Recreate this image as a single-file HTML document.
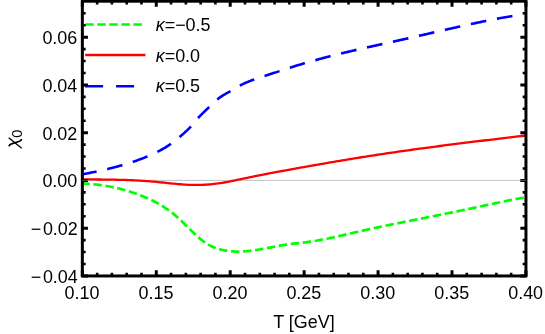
<!DOCTYPE html>
<html>
<head>
<meta charset="utf-8">
<title>plot</title>
<style>
html,body{margin:0;padding:0;background:#fff;}
body{width:545px;height:334px;overflow:hidden;}
svg{display:block;will-change:transform;}
text{font-family:"Liberation Sans",sans-serif;font-size:17.95px;fill:#000;filter:grayscale(1);}
.it{font-style:italic;}
</style>
</head>
<body>
<svg width="545" height="334" viewBox="0 0 545 334">
<rect x="0" y="0" width="545" height="334" fill="#fff"/>
<!-- zero grid line -->
<line x1="82.35" y1="180.4" x2="525.95" y2="180.4" stroke="#b4b4b4" stroke-width="0.8"/>
<!-- curves -->
<path d="M82.35,183.44 L83.85,183.52 L85.35,183.60 L86.85,183.70 L88.34,183.81 L89.84,183.92 L91.34,184.05 L92.84,184.19 L94.34,184.34 L95.84,184.50 L97.34,184.68 L98.84,184.86 L100.33,185.06 L101.83,185.27 L103.33,185.49 L104.83,185.73 L106.33,185.97 L107.83,186.23 L109.33,186.50 L110.82,186.79 L112.32,187.09 L113.82,187.40 L115.32,187.72 L116.82,188.06 L118.32,188.41 L119.82,188.78 L121.31,189.16 L122.81,189.56 L124.31,189.97 L125.81,190.39 L127.31,190.83 L128.81,191.29 L130.31,191.75 L131.81,192.24 L133.30,192.74 L134.80,193.26 L136.30,193.79 L137.80,194.34 L139.30,194.90 L140.80,195.48 L142.30,196.08 L143.79,196.69 L145.29,197.32 L146.79,197.97 L148.29,198.64 L149.79,199.32 L151.29,200.02 L152.79,200.75 L154.29,201.50 L155.78,202.27 L157.28,203.07 L158.78,203.90 L160.28,204.76 L161.78,205.65 L163.28,206.58 L164.78,207.53 L166.27,208.53 L167.77,209.56 L169.27,210.63 L170.77,211.75 L172.27,212.90 L173.77,214.11 L175.27,215.35 L176.76,216.65 L178.26,217.99 L179.76,219.37 L181.26,220.79 L182.76,222.24 L184.26,223.70 L185.76,225.19 L187.26,226.67 L188.75,228.16 L190.25,229.65 L191.75,231.12 L193.25,232.57 L194.75,234.00 L196.25,235.39 L197.75,236.74 L199.24,238.05 L200.74,239.30 L202.24,240.50 L203.74,241.63 L205.24,242.70 L206.74,243.68 L208.24,244.59 L209.74,245.41 L211.23,246.16 L212.73,246.84 L214.23,247.45 L215.73,248.00 L217.23,248.50 L218.73,248.96 L220.23,249.37 L221.72,249.74 L223.22,250.07 L224.72,250.36 L226.22,250.62 L227.72,250.85 L229.22,251.04 L230.72,251.20 L232.21,251.32 L233.71,251.42 L235.21,251.49 L236.71,251.53 L238.21,251.54 L239.71,251.53 L241.21,251.49 L242.71,251.43 L244.20,251.35 L245.70,251.24 L247.20,251.12 L248.70,250.97 L250.20,250.81 L251.70,250.63 L253.20,250.44 L254.69,250.23 L256.19,250.01 L257.69,249.77 L259.19,249.53 L260.69,249.27 L262.19,249.01 L263.69,248.74 L265.19,248.46 L266.68,248.18 L268.18,247.90 L269.68,247.61 L271.18,247.32 L272.68,247.03 L274.18,246.74 L275.68,246.46 L277.17,246.18 L278.67,245.90 L280.17,245.63 L281.67,245.36 L283.17,245.11 L284.67,244.86 L286.17,244.62 L287.66,244.40 L289.16,244.18 L290.66,243.98 L292.16,243.80 L293.66,243.62 L295.16,243.46 L296.66,243.30 L298.16,243.15 L299.65,242.99 L301.15,242.83 L302.65,242.66 L304.15,242.49 L305.65,242.30 L307.15,242.10 L308.65,241.90 L310.14,241.68 L311.64,241.45 L313.14,241.22 L314.64,240.97 L316.14,240.72 L317.64,240.46 L319.14,240.20 L320.64,239.92 L322.13,239.64 L323.63,239.35 L325.13,239.06 L326.63,238.76 L328.13,238.45 L329.63,238.14 L331.13,237.83 L332.62,237.51 L334.12,237.18 L335.62,236.85 L337.12,236.52 L338.62,236.19 L340.12,235.85 L341.62,235.51 L343.11,235.17 L344.61,234.82 L346.11,234.48 L347.61,234.13 L349.11,233.78 L350.61,233.44 L352.11,233.09 L353.61,232.74 L355.10,232.39 L356.60,232.05 L358.10,231.70 L359.60,231.36 L361.10,231.01 L362.60,230.67 L364.10,230.34 L365.59,230.00 L367.09,229.67 L368.59,229.34 L370.09,229.01 L371.59,228.68 L373.09,228.36 L374.59,228.04 L376.09,227.72 L377.58,227.40 L379.08,227.08 L380.58,226.76 L382.08,226.45 L383.58,226.14 L385.08,225.83 L386.58,225.52 L388.07,225.21 L389.57,224.90 L391.07,224.60 L392.57,224.29 L394.07,223.99 L395.57,223.69 L397.07,223.38 L398.56,223.08 L400.06,222.78 L401.56,222.48 L403.06,222.19 L404.56,221.89 L406.06,221.59 L407.56,221.29 L409.06,221.00 L410.55,220.70 L412.05,220.40 L413.55,220.11 L415.05,219.81 L416.55,219.52 L418.05,219.22 L419.55,218.92 L421.04,218.63 L422.54,218.33 L424.04,218.04 L425.54,217.74 L427.04,217.44 L428.54,217.15 L430.04,216.85 L431.54,216.55 L433.03,216.25 L434.53,215.95 L436.03,215.65 L437.53,215.35 L439.03,215.05 L440.53,214.75 L442.03,214.45 L443.52,214.15 L445.02,213.85 L446.52,213.55 L448.02,213.24 L449.52,212.94 L451.02,212.63 L452.52,212.32 L454.01,212.02 L455.51,211.71 L457.01,211.40 L458.51,211.09 L460.01,210.78 L461.51,210.46 L463.01,210.15 L464.51,209.84 L466.00,209.52 L467.50,209.20 L469.00,208.88 L470.50,208.57 L472.00,208.24 L473.50,207.92 L475.00,207.60 L476.49,207.28 L477.99,206.95 L479.49,206.63 L480.99,206.30 L482.49,205.98 L483.99,205.66 L485.49,205.33 L486.99,205.01 L488.48,204.69 L489.98,204.36 L491.48,204.04 L492.98,203.72 L494.48,203.40 L495.98,203.08 L497.48,202.77 L498.97,202.45 L500.47,202.14 L501.97,201.83 L503.47,201.52 L504.97,201.21 L506.47,200.91 L507.97,200.60 L509.46,200.30 L510.96,200.01 L512.46,199.71 L513.96,199.42 L515.46,199.13 L516.96,198.85 L518.46,198.57 L519.96,198.29 L521.45,198.01 L522.95,197.74 L524.45,197.48 L525.95,197.22" fill="none" stroke="#00ff00" stroke-width="2.7" stroke-dasharray="8.45 3.62" stroke-dashoffset="1.0"/>
<path d="M82.35,179.40 L84.35,179.41 L86.35,179.42 L88.34,179.43 L90.34,179.45 L92.34,179.46 L94.34,179.47 L96.34,179.48 L98.34,179.50 L100.33,179.52 L102.33,179.53 L104.33,179.55 L106.33,179.58 L108.33,179.60 L110.32,179.63 L112.32,179.67 L114.32,179.70 L116.32,179.74 L118.32,179.79 L120.32,179.84 L122.31,179.89 L124.31,179.96 L126.31,180.02 L128.31,180.09 L130.31,180.17 L132.30,180.26 L134.30,180.35 L136.30,180.45 L138.30,180.56 L140.30,180.67 L142.30,180.79 L144.29,180.93 L146.29,181.07 L148.29,181.22 L150.29,181.37 L152.29,181.54 L154.29,181.72 L156.28,181.90 L158.28,182.09 L160.28,182.29 L162.28,182.49 L164.28,182.69 L166.27,182.90 L168.27,183.11 L170.27,183.31 L172.27,183.52 L174.27,183.72 L176.27,183.91 L178.26,184.09 L180.26,184.27 L182.26,184.42 L184.26,184.56 L186.26,184.68 L188.25,184.78 L190.25,184.86 L192.25,184.92 L194.25,184.95 L196.25,184.96 L198.25,184.94 L200.24,184.90 L202.24,184.84 L204.24,184.76 L206.24,184.64 L208.24,184.51 L210.23,184.35 L212.23,184.16 L214.23,183.95 L216.23,183.71 L218.23,183.44 L220.23,183.15 L222.22,182.84 L224.22,182.50 L226.22,182.14 L228.22,181.77 L230.22,181.38 L232.21,180.98 L234.21,180.57 L236.21,180.15 L238.21,179.73 L240.21,179.30 L242.21,178.87 L244.20,178.44 L246.20,178.01 L248.20,177.59 L250.20,177.18 L252.20,176.77 L254.20,176.36 L256.19,175.96 L258.19,175.56 L260.19,175.16 L262.19,174.77 L264.19,174.38 L266.18,174.00 L268.18,173.61 L270.18,173.23 L272.18,172.86 L274.18,172.48 L276.18,172.11 L278.17,171.74 L280.17,171.37 L282.17,171.00 L284.17,170.63 L286.17,170.27 L288.16,169.91 L290.16,169.54 L292.16,169.18 L294.16,168.82 L296.16,168.46 L298.16,168.10 L300.15,167.74 L302.15,167.38 L304.15,167.03 L306.15,166.67 L308.15,166.32 L310.14,165.96 L312.14,165.61 L314.14,165.25 L316.14,164.90 L318.14,164.55 L320.14,164.20 L322.13,163.86 L324.13,163.51 L326.13,163.16 L328.13,162.82 L330.13,162.47 L332.12,162.13 L334.12,161.79 L336.12,161.45 L338.12,161.11 L340.12,160.78 L342.12,160.44 L344.11,160.11 L346.11,159.78 L348.11,159.44 L350.11,159.12 L352.11,158.79 L354.10,158.46 L356.10,158.14 L358.10,157.81 L360.10,157.49 L362.10,157.17 L364.10,156.86 L366.09,156.54 L368.09,156.23 L370.09,155.92 L372.09,155.61 L374.09,155.30 L376.09,154.99 L378.08,154.69 L380.08,154.38 L382.08,154.08 L384.08,153.78 L386.08,153.48 L388.07,153.19 L390.07,152.89 L392.07,152.60 L394.07,152.31 L396.07,152.02 L398.07,151.73 L400.06,151.44 L402.06,151.16 L404.06,150.88 L406.06,150.59 L408.06,150.31 L410.05,150.03 L412.05,149.76 L414.05,149.48 L416.05,149.20 L418.05,148.93 L420.05,148.66 L422.04,148.39 L424.04,148.12 L426.04,147.85 L428.04,147.58 L430.04,147.31 L432.03,147.05 L434.03,146.78 L436.03,146.52 L438.03,146.26 L440.03,146.00 L442.03,145.74 L444.02,145.48 L446.02,145.22 L448.02,144.97 L450.02,144.71 L452.02,144.46 L454.01,144.20 L456.01,143.95 L458.01,143.70 L460.01,143.45 L462.01,143.20 L464.01,142.95 L466.00,142.70 L468.00,142.45 L470.00,142.21 L472.00,141.96 L474.00,141.71 L476.00,141.47 L477.99,141.23 L479.99,140.98 L481.99,140.74 L483.99,140.50 L485.99,140.26 L487.98,140.02 L489.98,139.78 L491.98,139.54 L493.98,139.30 L495.98,139.06 L497.98,138.82 L499.97,138.58 L501.97,138.35 L503.97,138.11 L505.97,137.87 L507.97,137.64 L509.96,137.40 L511.96,137.16 L513.96,136.93 L515.96,136.69 L517.96,136.46 L519.96,136.23 L521.95,135.99 L523.95,135.76 L525.95,135.52" fill="none" stroke="#ff0000" stroke-width="2.3"/>
<path d="M82.35,174.35 L83.85,174.07 L85.35,173.78 L86.85,173.49 L88.35,173.19 L89.85,172.89 L91.35,172.59 L92.85,172.29 L94.35,171.98 L95.85,171.67 L97.35,171.35 L98.85,171.02 L100.35,170.70 L101.85,170.36 L103.35,170.02 L104.85,169.68 L106.35,169.33 L107.85,168.97 L109.35,168.61 L110.85,168.24 L112.35,167.86 L113.85,167.47 L115.35,167.08 L116.85,166.68 L118.35,166.27 L119.85,165.86 L121.35,165.43 L122.85,165.00 L124.35,164.55 L125.85,164.10 L127.34,163.64 L128.84,163.16 L130.34,162.68 L131.84,162.19 L133.34,161.69 L134.84,161.17 L136.34,160.65 L137.84,160.11 L139.34,159.56 L140.84,159.00 L142.34,158.43 L143.84,157.84 L145.34,157.25 L146.84,156.64 L148.34,156.01 L149.84,155.38 L151.34,154.72 L152.84,154.05 L154.34,153.36 L155.84,152.64 L157.34,151.90 L158.84,151.13 L160.34,150.34 L161.84,149.51 L163.34,148.65 L164.84,147.76 L166.34,146.83 L167.84,145.86 L169.34,144.86 L170.84,143.81 L172.34,142.71 L173.84,141.58 L175.34,140.41 L176.84,139.21 L178.34,137.98 L179.84,136.74 L181.34,135.48 L182.84,134.20 L184.34,132.88 L185.84,131.51 L187.34,130.09 L188.84,128.60 L190.34,127.03 L191.84,125.37 L193.34,123.63 L194.84,121.86 L196.34,120.08 L197.84,118.35 L199.34,116.70 L200.84,115.13 L202.34,113.62 L203.84,112.15 L205.34,110.72 L206.84,109.30 L208.34,107.88 L209.84,106.44 L211.34,104.98 L212.84,103.53 L214.34,102.11 L215.83,100.74 L217.33,99.46 L218.83,98.27 L220.33,97.18 L221.83,96.18 L223.33,95.23 L224.83,94.34 L226.33,93.48 L227.83,92.64 L229.33,91.80 L230.83,90.95 L232.33,90.08 L233.83,89.19 L235.33,88.30 L236.83,87.41 L238.33,86.54 L239.83,85.70 L241.33,84.90 L242.83,84.14 L244.33,83.42 L245.83,82.74 L247.33,82.09 L248.83,81.47 L250.33,80.88 L251.83,80.31 L253.33,79.76 L254.83,79.23 L256.33,78.72 L257.83,78.22 L259.33,77.73 L260.83,77.25 L262.33,76.77 L263.83,76.29 L265.33,75.81 L266.83,75.33 L268.33,74.84 L269.83,74.34 L271.33,73.85 L272.83,73.35 L274.33,72.86 L275.83,72.36 L277.33,71.86 L278.83,71.36 L280.33,70.86 L281.83,70.36 L283.33,69.86 L284.83,69.37 L286.33,68.88 L287.83,68.39 L289.33,67.90 L290.83,67.42 L292.33,66.94 L293.83,66.47 L295.33,66.01 L296.83,65.54 L298.33,65.08 L299.83,64.63 L301.33,64.18 L302.82,63.73 L304.32,63.29 L305.82,62.85 L307.32,62.42 L308.82,61.99 L310.32,61.56 L311.82,61.14 L313.32,60.72 L314.82,60.30 L316.32,59.89 L317.82,59.48 L319.32,59.07 L320.82,58.67 L322.32,58.27 L323.82,57.87 L325.32,57.48 L326.82,57.09 L328.32,56.70 L329.82,56.31 L331.32,55.93 L332.82,55.55 L334.32,55.17 L335.82,54.80 L337.32,54.43 L338.82,54.06 L340.32,53.69 L341.82,53.32 L343.32,52.96 L344.82,52.60 L346.32,52.24 L347.82,51.88 L349.32,51.52 L350.82,51.17 L352.32,50.82 L353.82,50.47 L355.32,50.12 L356.82,49.77 L358.32,49.43 L359.82,49.08 L361.32,48.74 L362.82,48.40 L364.32,48.06 L365.82,47.72 L367.32,47.38 L368.82,47.04 L370.32,46.70 L371.82,46.37 L373.32,46.03 L374.82,45.70 L376.32,45.37 L377.82,45.03 L379.32,44.70 L380.82,44.37 L382.32,44.04 L383.82,43.70 L385.32,43.37 L386.82,43.04 L388.32,42.71 L389.82,42.38 L391.31,42.05 L392.81,41.71 L394.31,41.38 L395.81,41.05 L397.31,40.72 L398.81,40.38 L400.31,40.05 L401.81,39.72 L403.31,39.38 L404.81,39.04 L406.31,38.71 L407.81,38.37 L409.31,38.03 L410.81,37.69 L412.31,37.35 L413.81,37.01 L415.31,36.67 L416.81,36.33 L418.31,35.99 L419.81,35.64 L421.31,35.30 L422.81,34.95 L424.31,34.61 L425.81,34.26 L427.31,33.92 L428.81,33.57 L430.31,33.23 L431.81,32.88 L433.31,32.54 L434.81,32.19 L436.31,31.85 L437.81,31.50 L439.31,31.16 L440.81,30.81 L442.31,30.47 L443.81,30.12 L445.31,29.78 L446.81,29.44 L448.31,29.10 L449.81,28.76 L451.31,28.42 L452.81,28.08 L454.31,27.74 L455.81,27.40 L457.31,27.06 L458.81,26.73 L460.31,26.39 L461.81,26.06 L463.31,25.73 L464.81,25.40 L466.31,25.07 L467.81,24.74 L469.31,24.42 L470.81,24.09 L472.31,23.77 L473.81,23.45 L475.31,23.13 L476.81,22.81 L478.31,22.50 L479.80,22.19 L481.30,21.87 L482.80,21.57 L484.30,21.26 L485.80,20.95 L487.30,20.65 L488.80,20.35 L490.30,20.06 L491.80,19.76 L493.30,19.47 L494.80,19.18 L496.30,18.89 L497.80,18.61 L499.30,18.33 L500.80,18.05 L502.30,17.77 L503.80,17.50 L505.30,17.23 L506.80,16.96 L508.30,16.70 L509.80,16.44 L511.30,16.18 L512.80,15.93 L514.30,15.68 L515.80,15.44 L517.30,15.19 L518.80,14.96 L520.30,14.72 L521.80,14.49 L523.30,14.26" fill="none" stroke="#0000ff" stroke-width="2.6" stroke-dasharray="15.75 10.86" stroke-dashoffset="1.23"/>
<!-- legend -->
<path d="M85.2,24.4H145.0" fill="none" stroke="#00ff00" stroke-width="2.5" stroke-dasharray="8.5 3.55"/>
<path d="M85.2,55.1H145.4" fill="none" stroke="#ff0000" stroke-width="2.5"/>
<path d="M85.0,86.3H145.4" fill="none" stroke="#0000ff" stroke-width="2.5" stroke-dasharray="18.1 12.9"/>
<text x="155.7" y="31"><tspan class="it">&#954;</tspan>=−0.5</text>
<text x="155.7" y="62"><tspan class="it">&#954;</tspan>=0.0</text>
<text x="155.7" y="92"><tspan class="it">&#954;</tspan>=0.5</text>
<!-- frame -->
<rect x="82.35" y="1.2" width="443.60" height="274.75" fill="none" stroke="#000" stroke-width="3.0"/>
<path d="M82.35,275.95V270.35M82.35,1.20V6.80 M156.28,275.95V270.35M156.28,1.20V6.80 M230.22,275.95V270.35M230.22,1.20V6.80 M304.15,275.95V270.35M304.15,1.20V6.80 M378.08,275.95V270.35M378.08,1.20V6.80 M452.02,275.95V270.35M452.02,1.20V6.80 M525.95,275.95V270.35M525.95,1.20V6.80 M82.35,275.95H87.95M525.95,275.95H520.35 M82.35,228.20H87.95M525.95,228.20H520.35 M82.35,180.45H87.95M525.95,180.45H520.35 M82.35,132.70H87.95M525.95,132.70H520.35 M82.35,84.95H87.95M525.95,84.95H520.35 M82.35,37.20H87.95M525.95,37.20H520.35" fill="none" stroke="#000" stroke-width="3.0"/>
<path d="M97.14,275.95V272.65M97.14,1.20V4.50 M111.92,275.95V272.65M111.92,1.20V4.50 M126.71,275.95V272.65M126.71,1.20V4.50 M141.50,275.95V272.65M141.50,1.20V4.50 M171.07,275.95V272.65M171.07,1.20V4.50 M185.86,275.95V272.65M185.86,1.20V4.50 M200.64,275.95V272.65M200.64,1.20V4.50 M215.43,275.95V272.65M215.43,1.20V4.50 M245.00,275.95V272.65M245.00,1.20V4.50 M259.79,275.95V272.65M259.79,1.20V4.50 M274.58,275.95V272.65M274.58,1.20V4.50 M289.36,275.95V272.65M289.36,1.20V4.50 M318.94,275.95V272.65M318.94,1.20V4.50 M333.72,275.95V272.65M333.72,1.20V4.50 M348.51,275.95V272.65M348.51,1.20V4.50 M363.30,275.95V272.65M363.30,1.20V4.50 M392.87,275.95V272.65M392.87,1.20V4.50 M407.66,275.95V272.65M407.66,1.20V4.50 M422.44,275.95V272.65M422.44,1.20V4.50 M437.23,275.95V272.65M437.23,1.20V4.50 M466.80,275.95V272.65M466.80,1.20V4.50 M481.59,275.95V272.65M481.59,1.20V4.50 M496.38,275.95V272.65M496.38,1.20V4.50 M511.16,275.95V272.65M511.16,1.20V4.50 M82.35,264.01H85.65M525.95,264.01H522.65 M82.35,252.07H85.65M525.95,252.07H522.65 M82.35,240.14H85.65M525.95,240.14H522.65 M82.35,216.26H85.65M525.95,216.26H522.65 M82.35,204.32H85.65M525.95,204.32H522.65 M82.35,192.39H85.65M525.95,192.39H522.65 M82.35,168.51H85.65M525.95,168.51H522.65 M82.35,156.57H85.65M525.95,156.57H522.65 M82.35,144.64H85.65M525.95,144.64H522.65 M82.35,120.76H85.65M525.95,120.76H522.65 M82.35,108.82H85.65M525.95,108.82H522.65 M82.35,96.89H85.65M525.95,96.89H522.65 M82.35,73.01H85.65M525.95,73.01H522.65 M82.35,61.07H85.65M525.95,61.07H522.65 M82.35,49.14H85.65M525.95,49.14H522.65 M82.35,25.26H85.65M525.95,25.26H522.65 M82.35,13.32H85.65M525.95,13.32H522.65" fill="none" stroke="#000" stroke-width="2.6"/>
<path d="M82.35,180.4H87.94999999999999M520.35,180.4H525.95" fill="none" stroke="#6a6a6a" stroke-width="0.8"/>
<!-- tick labels -->
<text x="77.8" y="283" text-anchor="end">−<tspan dx="1.6">0.04</tspan></text>
<text x="77.8" y="235" text-anchor="end">−<tspan dx="1.6">0.02</tspan></text>
<text x="77.3" y="187" text-anchor="end">0.00</text>
<text x="77.3" y="140" text-anchor="end">0.02</text>
<text x="77.3" y="92" text-anchor="end">0.04</text>
<text x="77.3" y="44" text-anchor="end">0.06</text>
<text x="82.05" y="299" text-anchor="middle">0.10</text>
<text x="155.98" y="299" text-anchor="middle">0.15</text>
<text x="229.92" y="299" text-anchor="middle">0.20</text>
<text x="303.85" y="299" text-anchor="middle">0.25</text>
<text x="377.78" y="299" text-anchor="middle">0.30</text>
<text x="451.72" y="299" text-anchor="middle">0.35</text>
<text x="525.65" y="299" text-anchor="middle">0.40</text>
<!-- axis labels -->
<text x="303.9" y="328" text-anchor="middle">T [GeV]</text>
<path d="M8.7,137.8L21.7,148.3" fill="none" stroke="#000" stroke-width="1.3"/>
<path d="M9.0,146.3C9.2,144.6 10.2,144.3 11.5,143.9L19.5,141.2C20.8,140.8 21.5,140.3 21.5,139.0" fill="none" stroke="#000" stroke-width="1.7"/>
<g transform="translate(21.7,137.8) rotate(-90)"><text x="0" y="0" style="font-size:14.6px">0</text></g>
</svg>
</body>
</html>
